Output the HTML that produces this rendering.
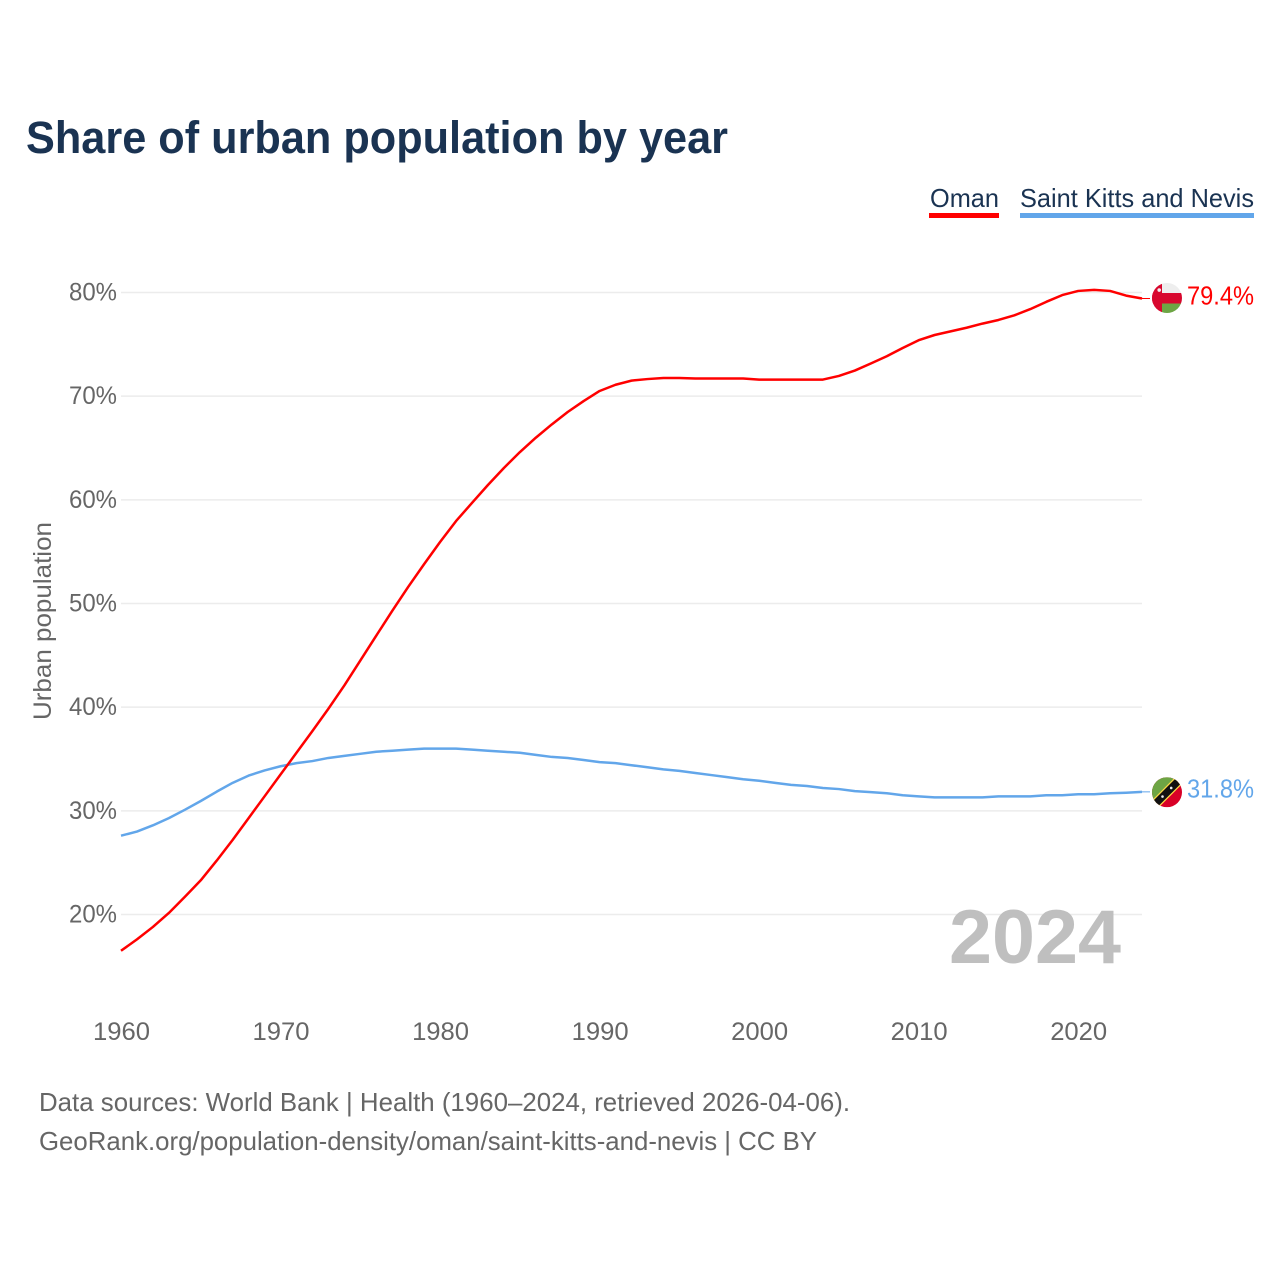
<!DOCTYPE html>
<html lang="en">
<head>
<meta charset="utf-8">
<title>Share of urban population by year</title>
<style>
html,body{margin:0;padding:0;background:#fff;}
svg{display:block;font-family:"Liberation Sans",sans-serif;}
</style>
</head>
<body>
<svg id="chart" xmlns="http://www.w3.org/2000/svg" width="1280" height="1280" viewBox="0 0 1280 1280">
  <defs>
    <clipPath id="oman-clip"><circle cx="0" cy="0" r="15"></circle></clipPath>
    <clipPath id="skn-clip"><circle cx="0" cy="0" r="15"></circle></clipPath>
  </defs>
  <rect x="0" y="0" width="1280" height="1280" fill="#ffffff"></rect>
  <text x="26" y="153" font-size="45" font-weight="700" fill="#1a3352" textLength="702" lengthAdjust="spacingAndGlyphs">Share of urban population by year</text>

  <g>
    <g>
      <text x="930" y="207" font-size="26" fill="#1a3352" textLength="69" lengthAdjust="spacingAndGlyphs">Oman</text>
      <rect x="929" y="213" width="70" height="5" fill="#ff0000"></rect>
    </g>
    <g>
      <text x="1020" y="207" font-size="26" fill="#1a3352" textLength="234" lengthAdjust="spacingAndGlyphs">Saint Kitts and Nevis</text>
      <rect x="1020" y="213" width="234" height="5" fill="#62a6ea"></rect>
    </g>
  </g>

  <g id="grid"></g>
  <g id="yticks"></g>
  <g id="xticks"></g>
  <text transform="translate(51,621) rotate(-90)" text-anchor="middle" font-size="25" fill="#666666" textLength="198" lengthAdjust="spacingAndGlyphs">Urban population</text>

  <text x="949" y="963" font-size="76" font-weight="700" fill="#bfbfbf" textLength="172" lengthAdjust="spacingAndGlyphs">2024</text>

  <g id="series"></g>

  <g id="flag-oman">
    <g clip-path="url(#oman-clip)">
      <rect x="-15" y="-15" width="30" height="30" fill="#eeeeee"></rect>
      <rect x="-15" y="-5" width="30" height="10.5" fill="#d8072e"></rect>
      <rect x="-5" y="5.5" width="20" height="10" fill="#6da544"></rect>
      <rect x="-15" y="-15" width="10" height="30" fill="#d8072e"></rect>
      <circle cx="-7.8" cy="-8" r="1.8" fill="#f0f0f0"></circle>
    </g>
  </g>
  <g id="flag-skn">
    <g clip-path="url(#skn-clip)">
      <rect x="-15" y="-15" width="30" height="30" fill="#d80027"></rect>
      <polygon points="-15,-15 15,-15 -15,15" fill="#6da544"></polygon>
      <polygon points="-22,15 15,-22 22,-15 -15,22" fill="#ffda44"></polygon>
      <polygon points="-20.2,15 15,-20.2 20.2,-15 -15,20.2" fill="#111111"></polygon>
      <circle cx="-4.5" cy="4.3" r="1.3" fill="#eeeeee"></circle>
      <circle cx="4.2" cy="-4.3" r="1.3" fill="#eeeeee"></circle>
    </g>
  </g>
  <text id="value-oman" x="1187" y="304" font-size="26" fill="#ff0000" textLength="67" lengthAdjust="spacingAndGlyphs"></text>
  <text id="value-skn" x="1187" y="797" font-size="26" fill="#62a6ea" textLength="67" lengthAdjust="spacingAndGlyphs"></text>

  <g>
    <text x="39" y="1111" font-size="26" fill="#666666" textLength="811" lengthAdjust="spacingAndGlyphs">Data sources: World Bank | Health (1960–2024, retrieved 2026-04-06).</text>
    <text x="39" y="1150" font-size="26" fill="#666666" textLength="778" lengthAdjust="spacingAndGlyphs">GeoRank.org/population-density/oman/saint-kitts-and-nevis | CC BY</text>
  </g>
</svg>
<script>
const years = [1960,1961,1962,1963,1964,1965,1966,1967,1968,1969,1970,1971,1972,1973,1974,1975,1976,1977,1978,1979,1980,1981,1982,1983,1984,1985,1986,1987,1988,1989,1990,1991,1992,1993,1994,1995,1996,1997,1998,1999,2000,2001,2002,2003,2004,2005,2006,2007,2008,2009,2010,2011,2012,2013,2014,2015,2016,2017,2018,2019,2020,2021,2022,2023,2024];
const omanValues = [16.5,17.6,18.8,20.15,21.7,23.3,25.2,27.2,29.3,31.4,33.5,35.6,37.7,39.85,42.1,44.5,46.9,49.28,51.6,53.8,55.93,57.95,59.7,61.43,63.07,64.6,65.99,67.27,68.47,69.53,70.5,71.1,71.5,71.65,71.75,71.75,71.7,71.7,71.7,71.7,71.6,71.6,71.6,71.6,71.6,71.95,72.47,73.15,73.85,74.65,75.4,75.9,76.25,76.6,77.0,77.35,77.8,78.4,79.1,79.75,80.15,80.25,80.15,79.7,79.42];
const sknValues = [27.6,28.0,28.6,29.3,30.1,30.95,31.85,32.7,33.4,33.9,34.3,34.6,34.8,35.1,35.3,35.5,35.7,35.8,35.9,36.0,36.0,36.0,35.9,35.8,35.7,35.6,35.4,35.2,35.1,34.9,34.7,34.6,34.4,34.2,34.0,33.85,33.65,33.45,33.25,33.05,32.9,32.7,32.5,32.4,32.2,32.1,31.9,31.8,31.7,31.5,31.4,31.3,31.3,31.3,31.3,31.4,31.4,31.4,31.5,31.5,31.6,31.6,31.7,31.75,31.83];
const yTickValues = [20,30,40,50,60,70,80];
const xTickValues = [1960,1970,1980,1990,2000,2010,2020];

const SVG_NS = 'http://www.w3.org/2000/svg';
function xScale(year) { return 121 + (year - 1960) * (1142 - 121) / 64; }
function yScale(pct) { return 914.5 - (pct - 20) * (914.5 - 292.5) / 60; }
function make(tag, parent) {
  const el = document.createElementNS(SVG_NS, tag);
  parent.appendChild(el);
  return el;
}
const gridGroup = document.getElementById('grid');
const yTickGroup = document.getElementById('yticks');
const xTickGroup = document.getElementById('xticks');
const seriesGroup = document.getElementById('series');

yTickValues.forEach(function (v) {
  const line = make('line', gridGroup);
  
  
  line.setAttribute('x1', 121);
  line.setAttribute('x2', 1142);
  line.setAttribute('y1', yScale(v));
  line.setAttribute('y2', yScale(v));
  line.setAttribute('stroke', '#ececec');
  line.setAttribute('stroke-width', '1.5');

  const label = make('text', yTickGroup);
  
  
  label.setAttribute('x', 117);
  label.setAttribute('y', yScale(v) + 8);
  label.setAttribute('text-anchor', 'end');
  label.setAttribute('font-size', '25');
  label.setAttribute('fill', '#666666');
  label.setAttribute('textLength', '48');
  label.setAttribute('lengthAdjust', 'spacingAndGlyphs');
  label.textContent = v + '%';
});

xTickValues.forEach(function (yr) {
  const label = make('text', xTickGroup);
  
  
  label.setAttribute('x', xScale(yr) + 0.5);
  label.setAttribute('y', 1040);
  label.setAttribute('text-anchor', 'middle');
  label.setAttribute('font-size', '25');
  label.setAttribute('fill', '#666666');
  label.setAttribute('textLength', '57');
  label.setAttribute('lengthAdjust', 'spacingAndGlyphs');
  label.textContent = yr;
});

function buildPath(values) {
  return values.map(function (v, i) {
    return (i === 0 ? 'M' : 'L') + xScale(years[i]).toFixed(2) + ' ' + yScale(v).toFixed(2);
  }).join(' ');
}

const sknLine = make('path', seriesGroup);


sknLine.setAttribute('d', buildPath(sknValues));
sknLine.setAttribute('fill', 'none');
sknLine.setAttribute('stroke', '#62a6ea');
sknLine.setAttribute('stroke-width', '2.5');
sknLine.setAttribute('stroke-linejoin', 'round');

const omanLine = make('path', seriesGroup);


omanLine.setAttribute('d', buildPath(omanValues));
omanLine.setAttribute('fill', 'none');
omanLine.setAttribute('stroke', '#ff0000');
omanLine.setAttribute('stroke-width', '2.5');
omanLine.setAttribute('stroke-linejoin', 'round');

const omanLast = omanValues[omanValues.length - 1];
const sknLast = sknValues[sknValues.length - 1];

const omanLead = make('line', seriesGroup);


omanLead.setAttribute('x1', 1142);
omanLead.setAttribute('x2', 1150);
omanLead.setAttribute('y1', yScale(omanLast));
omanLead.setAttribute('y2', yScale(omanLast));
omanLead.setAttribute('stroke', '#ff0000');
omanLead.setAttribute('stroke-width', '1');

const sknLead = make('line', seriesGroup);


sknLead.setAttribute('x1', 1142);
sknLead.setAttribute('x2', 1150);
sknLead.setAttribute('y1', yScale(sknLast));
sknLead.setAttribute('y2', yScale(sknLast));
sknLead.setAttribute('stroke', '#62a6ea');
sknLead.setAttribute('stroke-width', '1');

document.getElementById('flag-oman').setAttribute('transform', 'translate(1167,' + (yScale(omanLast) - 0.5) + ')');
document.getElementById('flag-skn').setAttribute('transform', 'translate(1167,' + (yScale(sknLast) + 0.4) + ')');

const omanLabel = document.getElementById('value-oman');
omanLabel.setAttribute('y', yScale(omanLast) + 6);
omanLabel.textContent = omanLast.toFixed(1) + '%';
const sknLabel = document.getElementById('value-skn');
sknLabel.setAttribute('y', yScale(sknLast) + 5.6);
sknLabel.textContent = sknLast.toFixed(1) + '%';
</script>
</body>
</html>
